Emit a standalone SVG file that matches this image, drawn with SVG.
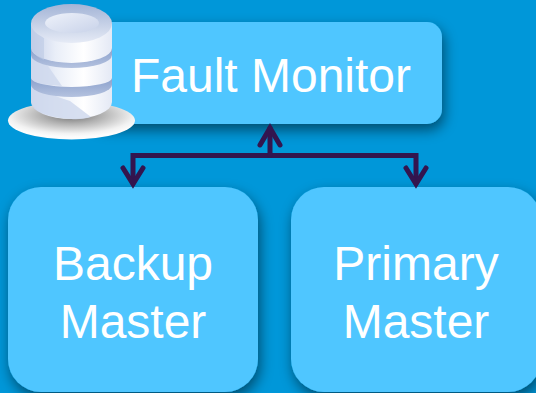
<svg xmlns="http://www.w3.org/2000/svg" width="536" height="393" viewBox="0 0 536 393">
<defs>
<filter id="sh" x="-20%" y="-30%" width="140%" height="170%"><feGaussianBlur in="SourceAlpha" stdDeviation="7"/><feOffset dx="2" dy="6"/><feComponentTransfer><feFuncA type="linear" slope="0.5"/></feComponentTransfer><feMerge><feMergeNode/><feMergeNode in="SourceGraphic"/></feMerge></filter>
<radialGradient id="disc" cx="0.5" cy="0.35" r="0.58"><stop offset="0" stop-color="#6f6f6f"/><stop offset="0.4" stop-color="#b0b0b0"/><stop offset="0.85" stop-color="#f2f2f2"/><stop offset="1" stop-color="#fcfcfc"/></radialGradient>
<linearGradient id="body" x1="0" x2="1" y1="0" y2="0"><stop offset="0" stop-color="#c6d1ea"/><stop offset="0.3" stop-color="#e9eef8"/><stop offset="0.65" stop-color="#ffffff"/><stop offset="1" stop-color="#e4e9f5"/></linearGradient>
<linearGradient id="band" x1="0" x2="0" y1="0" y2="1"><stop offset="0" stop-color="#7e96c6"/><stop offset="1" stop-color="#b4c2df"/></linearGradient>
<linearGradient id="top" x1="0" x2="0" y1="0" y2="1"><stop offset="0" stop-color="#a3b4d6"/><stop offset="1" stop-color="#e6ebf6"/></linearGradient>
<linearGradient id="well" x1="0" x2="1" y1="0" y2="1"><stop offset="0" stop-color="#eef2fa"/><stop offset="1" stop-color="#c8d2e9"/></linearGradient>
<style>
.box{fill:#4fc6ff;filter:url(#sh)}
text{font-family:"Liberation Sans",Arial,sans-serif;fill:#fff;text-anchor:middle;font-size:48px}
.c{fill:none;stroke:#33154f;stroke-width:5;stroke-linecap:round;stroke-linejoin:miter}
</style>
</defs>
<rect width="536" height="393" fill="#0097d9"/>
<g id="fault-monitor">
<rect class="box" x="90" y="22" width="352" height="102" rx="15"/>
<text x="271" y="92">Fault Monitor</text>
</g>
<g id="backup-master">
<rect class="box" x="8" y="187" width="250" height="205" rx="33"/>
<text x="133" y="280">Backup</text>
<text x="133" y="338">Master</text>
</g>
<g id="primary-master">
<rect class="box" x="291" y="187" width="250" height="205" rx="33"/>
<text x="416" y="280">Primary</text>
<text x="416" y="338">Master</text>
</g>
<g id="database">
<ellipse cx="71.500" cy="120.500" rx="63.500" ry="19" fill="url(#disc)"/>
<path d="M31 80V102A40.500 17 0 0 0 112 102V80Z" fill="url(#body)"/>
<path d="M70 101L91 117C84 119 78 119.500 71 119C48 118 33 110 31 102V85C45 92 55 96 70 101Z" fill="#d0d9ed" opacity="0.85"/>
<path d="M31 72V85A40.500 12 0 0 0 112 85V72Z" fill="url(#band)"/>
<path d="M31 52V78A40.500 9 0 0 0 112 78V52Z" fill="url(#body)"/>
<path d="M48 66L62 86C46 85 33 83 31 78V56Z" fill="#d0d9ed" opacity="0.85"/>
<path d="M31 42V55A40.500 13 0 0 0 112 55V42Z" fill="url(#band)"/>
<path d="M31 24V48A40.500 15 0 0 0 112 48V24Z" fill="url(#body)"/>
<path d="M31 26V48C33 53 38 58 44 60V38Z" fill="#bcc9e4" opacity="0.6"/>
<ellipse cx="71.500" cy="23.500" rx="40.500" ry="19.500" fill="url(#top)"/>
<ellipse cx="72" cy="23" rx="27" ry="10" fill="url(#well)"/>
</g>
<g id="connectors">
<path class="c" d="M133 183V155.500H416V183"/>
<path class="c" d="M123 168L133 184L143 168"/>
<path class="c" d="M406 168L416 184L426 168"/>
<path class="c" d="M270 155V128"/>
<path class="c" d="M260 145L270 128L280 145"/>
</g>
</svg>
